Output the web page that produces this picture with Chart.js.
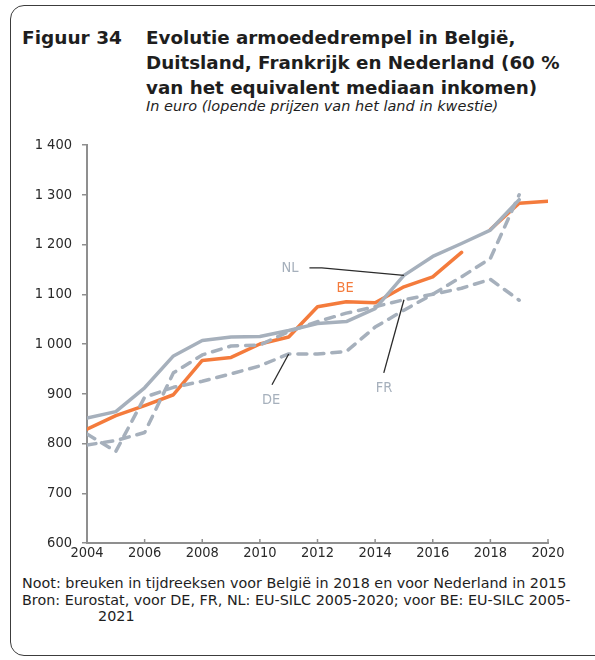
<!DOCTYPE html>
<html>
<head>
<meta charset="utf-8">
<script src="https://cdn.jsdelivr.net/npm/chart.js@4/dist/chart.umd.min.js"></script>
<style>
    body { margin: 0; width: 595px; height: 660px; overflow: hidden; background: #fff; font-family: "DejaVu Sans", sans-serif; color: #1e1e1e; }
    .frame { position: absolute; left: 10px; top: 5px; width: 640px; height: 649px; border: 1.5px solid #3c3c3c; border-radius: 14px; }
    .fig-no { position: absolute; left: 22px; top: 25px; font-weight: bold; font-size: 18.5px; line-height: 25px; }
    .fig-title { position: absolute; left: 146px; top: 25px; font-weight: bold; font-size: 18.3px; line-height: 25px; white-space: nowrap; }
    .fig-sub { position: absolute; left: 146px; top: 98px; font-style: italic; font-size: 14.5px; white-space: nowrap; }
    .chart-box { position: absolute; left: 0; top: 120px; width: 595px; height: 450px; }
    .notes { position: absolute; left: 22px; top: 575px; font-size: 14.35px; line-height: 16.5px; white-space: nowrap; }
    .notes .indent { padding-left: 76px; }
</style>
</head>
<body>
<div class="frame"></div>
<div class="fig-no">Figuur 34</div>
<div class="fig-title">Evolutie armoededrempel in België,<br>Duitsland, Frankrijk en Nederland (60 %<br>van het equivalent mediaan inkomen)</div>
<div class="fig-sub">In euro (lopende prijzen van het land in kwestie)</div>
<div class="chart-box"><canvas id="povertyChart" width="595" height="450"></canvas></div>
<div class="notes">
    <div>Noot: breuken in tijdreeksen voor België in 2018 en voor Nederland in 2015</div>
    <div>Bron: Eurostat, voor DE, FR, NL: EU-SILC 2005-2020; voor BE: EU-SILC 2005-</div>
    <div class="indent">2021</div>
</div>

<script>
// ============================================
// DATA (euro per month, current prices)
// ============================================

const years = [2004, 2005, 2006, 2007, 2008, 2009, 2010, 2011, 2012, 2013, 2014, 2015, 2016, 2017, 2018, 2019, 2020];
const beValues = [829, 856, 876, 898, 967, 973, 1000, 1014, 1075, 1085, 1083, 1115, 1135, 1184, 1230, 1283, 1287];
const nlValues = [851, 864, 912, 976, 1007, 1014, 1015, 1027, 1041, 1045, 1071, 1138, 1176, 1202, 1229, 1290];
const deValues = [819, 784, 893, 913, 925, 940, 956, 980, 980, 985, 1034, 1068, 1100, 1135, 1172, 1300];
const frValues = [797, 806, 822, 942, 978, 996, 998, 1025, 1045, 1062, 1075, 1089, 1100, 1112, 1130, 1088];
const beBreakYear = 2018;

const xTicks = [2004, 2006, 2008, 2010, 2012, 2014, 2016, 2018, 2020];
const yTicks = [600, 700, 800, 900, 1000, 1100, 1200, 1300, 1400];

const ORANGE = '#F47B3C';
const GREY = '#A6B0BC';
const AXIS = '#8f8f8f';
const FONT = '"DejaVu Sans Condensed", "DejaVu Sans", sans-serif';

function toPoints(values) {
    return values.map((v, i) => ({ x: years[i], y: v }));
}

function pointAt(values, year) {
    return { x: year, y: values[years.indexOf(year)] };
}

function formatThousands(v) {
    return String(v).replace(/\B(?=(\d{3})+(?!\d))/g, ' ');
}

// ============================================
// CALLOUT LABELS WITH LEADER LINES
// ============================================

const callouts = [
    { text: 'NL', color: GREY, at: { x: 2011.05, y: 1153 }, leader: [{ x: 2011.72, y: 1153 }, { x: 2012.15, y: 1153 }, pointAt(nlValues, 2015)] },
    { text: 'BE', color: ORANGE, at: { x: 2012.96, y: 1112 } },
    { text: 'DE', color: GREY, at: { x: 2010.39, y: 886 }, leader: [{ x: 2010.42, y: 918 }, pointAt(deValues, 2011)] },
    { text: 'FR', color: GREY, at: { x: 2014.31, y: 912 }, leader: [{ x: 2014.3, y: 942 }, pointAt(frValues, 2015)] }
];

const calloutPlugin = {
    id: 'callouts',
    afterDatasetsDraw(chart) {
        const { ctx, scales } = chart;
        const px = p => [scales.x.getPixelForValue(p.x), scales.y.getPixelForValue(p.y)];
        ctx.save();
        callouts.forEach(c => {
            if (c.leader) {
                ctx.beginPath();
                ctx.strokeStyle = '#2b2b2b';
                ctx.lineWidth = 1.3;
                c.leader.forEach((p, i) => {
                    const [x, y] = px(p);
                    if (i === 0) ctx.moveTo(x, y); else ctx.lineTo(x, y);
                });
                ctx.stroke();
            }
            const [tx, ty] = px(c.at);
            ctx.font = '14.5px ' + FONT;
            ctx.fillStyle = c.color;
            ctx.textAlign = 'center';
            ctx.textBaseline = 'middle';
            ctx.fillText(c.text, tx, ty);
        });
        ctx.restore();
    }
};

// small inward tick marks on the year axis
const yearTickPlugin = {
    id: 'yearTicks',
    afterDraw(chart) {
        const { ctx, scales, chartArea } = chart;
        ctx.save();
        ctx.strokeStyle = AXIS;
        ctx.lineWidth = 1.5;
        xTicks.forEach(t => {
            const x = scales.x.getPixelForValue(t);
            ctx.beginPath();
            ctx.moveTo(x, chartArea.bottom);
            ctx.lineTo(x, chartArea.bottom - 4);
            ctx.stroke();
        });
        ctx.restore();
    }
};

// ============================================
// CHART
// ============================================

const solid = { borderWidth: 3.5, pointRadius: 0, tension: 0, borderJoinStyle: 'round', borderCapStyle: 'round', fill: false };
const dashed = { ...solid, borderDash: [9, 8] };

new Chart(document.getElementById('povertyChart'), {
    type: 'line',
    data: {
        datasets: [
            { label: 'DE', data: toPoints(deValues), borderColor: GREY, ...dashed },
            { label: 'FR', data: toPoints(frValues), borderColor: GREY, ...dashed },
            { label: 'NL', data: toPoints(nlValues), borderColor: GREY, ...solid },
            {
                label: 'BE', data: toPoints(beValues), borderColor: ORANGE, ...solid,
                segment: {
                    borderColor: s => (years[s.p1DataIndex] === beBreakYear ? 'rgba(0,0,0,0)' : undefined)
                }
            }
        ]
    },
    options: {
        responsive: false,
        animation: false,
        events: [],
        layout: { padding: { top: 25, right: 47, left: 0, bottom: 0 } },
        plugins: {
            legend: { display: false },
            tooltip: { enabled: false }
        },
        scales: {
            x: {
                type: 'linear',
                min: xTicks[0],
                max: xTicks[xTicks.length - 1],
                afterBuildTicks: s => { s.ticks = xTicks.map(v => ({ value: v })); },
                afterFit: s => { s.height = 27; },
                border: { color: AXIS, width: 2 },
                grid: { display: true, drawOnChartArea: false, drawTicks: false },
                ticks: {
                    padding: 2,
                    color: '#2a2a2a',
                    font: { family: FONT, size: 14.5 },
                    callback: v => String(v)
                }
            },
            y: {
                min: yTicks[0],
                max: yTicks[yTicks.length - 1],
                afterBuildTicks: s => { s.ticks = yTicks.map(v => ({ value: v })); },
                afterFit: s => { s.width = 87; },
                border: { color: AXIS, width: 2 },
                grid: { drawOnChartArea: false, drawTicks: true, tickLength: 5, color: AXIS, lineWidth: 1.5 },
                ticks: {
                    padding: 10,
                    color: '#2a2a2a',
                    font: { family: FONT, size: 14.5 },
                    callback: v => formatThousands(v)
                }
            }
        }
    },
    plugins: [calloutPlugin, yearTickPlugin]
});
</script>
</body>
</html>
